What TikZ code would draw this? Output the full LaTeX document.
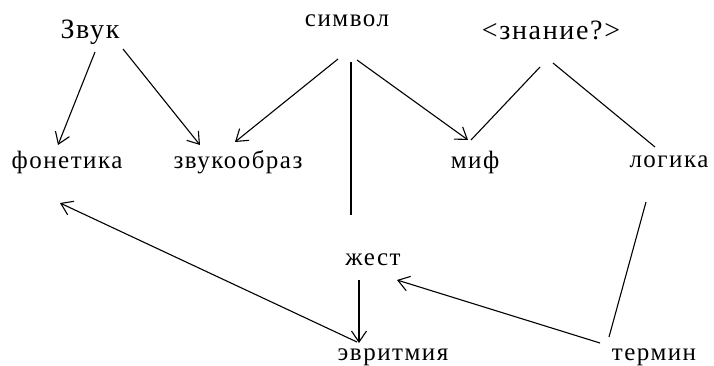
\documentclass[tikz,border=0pt]{standalone}
\usepackage{fontspec}
\setmainfont{Liberation Serif}
\newfontfamily\spacedfont[LetterSpace=6]{Liberation Serif}
\newfontfamily\widefont[LetterSpace=6]{Liberation Serif}
\usetikzlibrary{arrows.meta, positioning, calc}
\tikzset{
  word/.style={inner sep=0pt, font=\spacedfont\fontsize{25}{27}\selectfont},
  wordserif/.style={inner sep=0pt, font=\widefont\fontsize{28}{30}\selectfont},
  arrow/.style={line width=1.1pt, -{Straight Barb[length=11pt,width=15pt]}},
  link/.style={line width=1.1pt}
}
\begin{document}
\begin{tikzpicture}[x=1pt, y=-1pt]
  \useasboundingbox (0,0) rectangle (714,365);

  \node (zvuk) [wordserif] at (90,32) {Звук};
  \node (simvol) [word] at (347,21) {символ};
  \node (znanie) [wordserif] at (551,30) {<знание?>};
  \node (fonetika) [word] at (67,162) {фонетика};
  \node (zvukoobraz) [word] at (238,162) {звукообраз};
  \node (mif) [word] at (475,162) {миф};
  \node (logika) [word] at (669,162) {логика};
  \node (zhest) [word] at (373,260) {жест};
  \node (evritmiya) [word] at (393,357) {эвритмия};
  \node (termin) [word] at (654,357) {термин};

  \draw [arrow] ($(zvuk)+(5,20)$) -- ($(fonetika)+(-9,-17)$);
  \draw [arrow] ($(zvuk)+(33,17)$) -- ($(zvukoobraz)+(-38,-17)$);
  \draw [arrow] ($(simvol)+(-9,38)$) -- ($(zvukoobraz)+(-3,-20)$);
  \draw [link] ($(simvol)+(4,41)$) -- ($(zhest)+(-22,-45)$);
  \draw [arrow] ($(simvol)+(10,39)$) -- ($(mif)+(-7,-22)$);
  \draw [link] ($(znanie)+(-11,37)$) -- ($(mif)+(-4,-22)$);
  \draw [link] ($(znanie)+(2,33)$) -- ($(logika)+(-14,-15)$);
  \draw [link] ($(logika)+(-23,40)$) -- ($(termin)+(-45,-20)$);
  \draw [arrow] ($(termin)+(-54,-14)$) -- ($(zhest)+(24,20)$);
  \draw [arrow] ($(zhest)+(-14,20)$) -- ($(evritmiya)+(-34,-14)$);
  \draw [arrow] ($(evritmiya)+(-36,-15)$) -- ($(fonetika)+(-7,41)$);
\end{tikzpicture}
\end{document}
